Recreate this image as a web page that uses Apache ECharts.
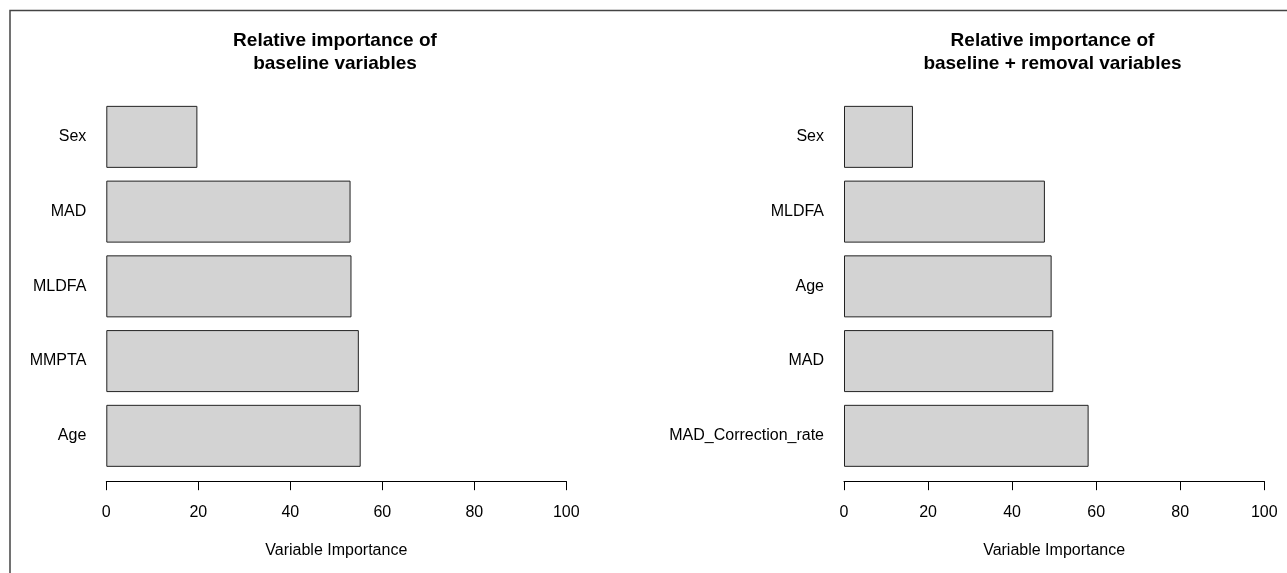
<!DOCTYPE html>
<html>
<head>
<meta charset="utf-8">
<script src="https://cdn.jsdelivr.net/npm/echarts@6/dist/echarts.min.js"></script>
<style>
html,body{margin:0;padding:0;background:#fff;}
#chart{width:1287px;height:573px;}
</style>
</head>
<body>
<div id="chart"></div>
<script>
// Left panel: baseline variables (top to bottom)
const leftCategories = ['Sex', 'MAD', 'MLDFA', 'MMPTA', 'Age'];
const leftValues = [19.8, 53.1, 53.3, 54.9, 55.3];
// Right panel: baseline + removal variables (top to bottom)
const rightCategories = ['Sex', 'MLDFA', 'Age', 'MAD', 'MAD_Correction_rate'];
const rightValues = [16.4, 47.8, 49.4, 49.8, 58.2];
const xTicks = [0, 20, 40, 60, 80, 100];
const titles = ['Relative importance of\nbaseline variables', 'Relative importance of\nbaseline + removal variables'];
const xName = 'Variable Importance';

const FONT = '"Liberation Sans", Arial, Helvetica, sans-serif';
const chart = echarts.init(document.getElementById('chart'), null, {renderer: 'canvas'});

const grids = [
  {left: 106.3, width: 460, top: 99.5, height: 373.7},
  {left: 844, width: 420.3, top: 99.5, height: 373.7}
];

function xAxisFor(i) {
  return {
    type: 'value', gridIndex: i, min: xTicks[0], max: xTicks[xTicks.length - 1],
    interval: xTicks[1] - xTicks[0], offset: 8,
    axisLine: {show: true, lineStyle: {color: '#000', width: 1}},
    axisTick: {show: true, length: 9, lineStyle: {color: '#000', width: 1}},
    splitLine: {show: false},
    axisLabel: {color: '#000', fontSize: 16, fontFamily: FONT, margin: 23},
    name: xName, nameLocation: 'middle', nameGap: 61,
    nameTextStyle: {color: '#000', fontSize: 16, fontFamily: FONT}
  };
}
function yAxisFor(i, cats) {
  return {
    type: 'category', gridIndex: i, data: cats, inverse: true,
    axisLine: {show: false}, axisTick: {show: false}, splitLine: {show: false},
    axisLabel: {color: '#000', fontSize: 16, fontFamily: FONT, margin: 20}
  };
}
function seriesFor(i, vals) {
  return {
    type: 'bar', xAxisIndex: i, yAxisIndex: i, data: vals,
    barWidth: 62, silent: true,
    itemStyle: {color: '#D3D3D3', borderColor: '#222', borderWidth: 1}
  };
}

chart.setOption({
  animation: false,
  backgroundColor: '#fff',
  title: [
    {text: titles[0], left: 330, top: 24, textAlign: 'center',
     textStyle: {fontSize: 19, fontWeight: 'bold', fontFamily: FONT, color: '#000', lineHeight: 23}},
    {text: titles[1], left: 1047.5, top: 24, textAlign: 'center',
     textStyle: {fontSize: 19, fontWeight: 'bold', fontFamily: FONT, color: '#000', lineHeight: 23}}
  ],
  grid: grids,
  xAxis: [xAxisFor(0), xAxisFor(1)],
  yAxis: [yAxisFor(0, leftCategories), yAxisFor(1, rightCategories)],
  series: [seriesFor(0, leftValues), seriesFor(1, rightValues)],
  graphic: [{
    type: 'rect', silent: true, z: 100,
    shape: {x: 10, y: 10.5, width: 1400, height: 700},
    style: {fill: null, stroke: '#444', lineWidth: 1.5}
  }]
});
</script>
</body>
</html>
